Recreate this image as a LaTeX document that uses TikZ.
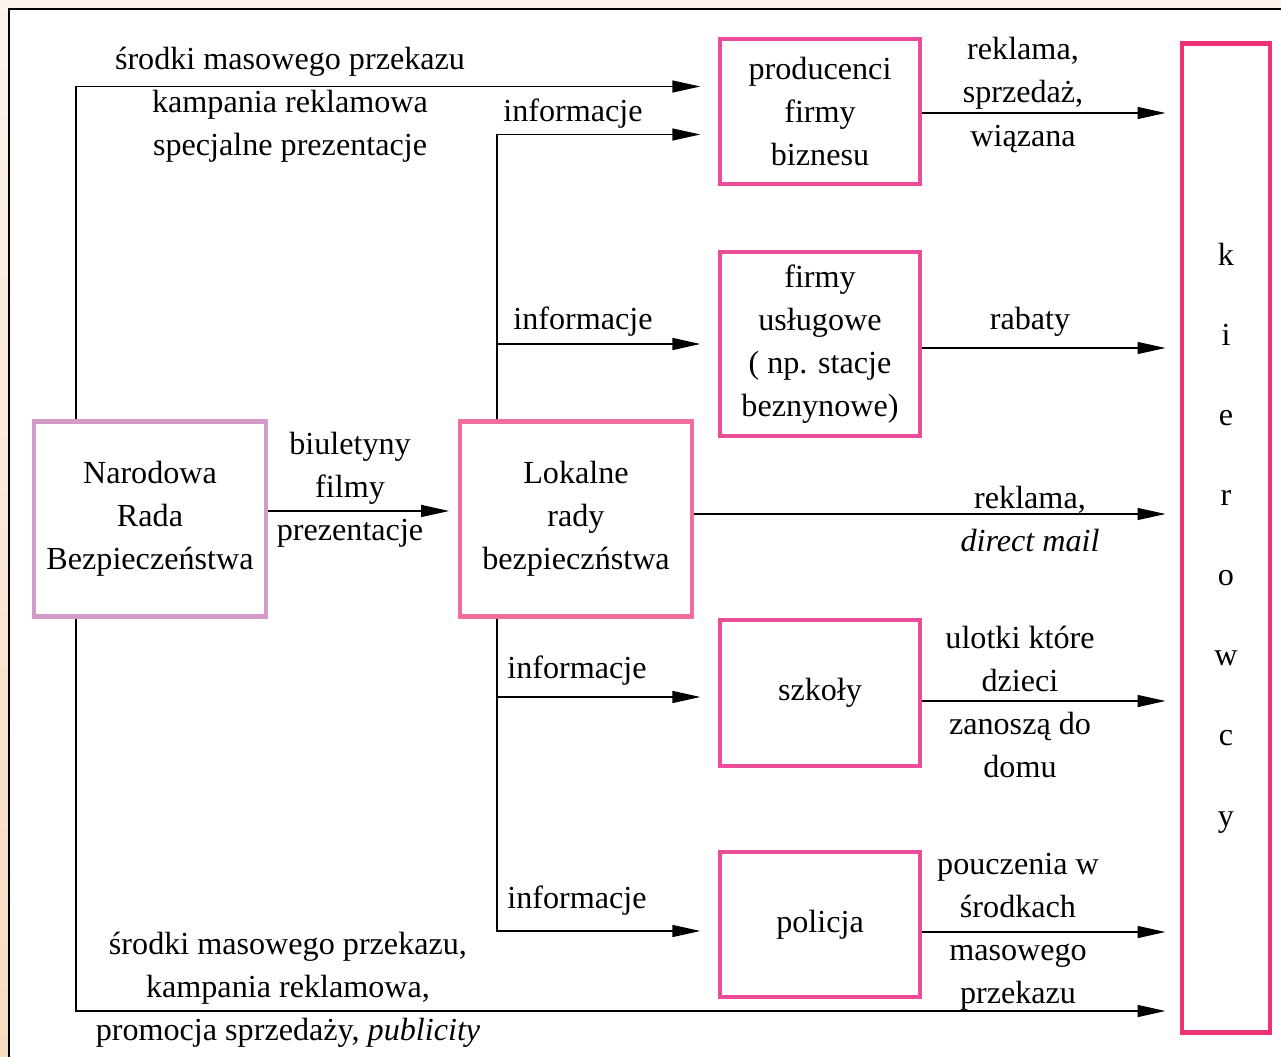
\documentclass[tikz,border=0pt]{standalone}
\usepackage{fontspec}
\setmainfont{Liberation Serif}
\usetikzlibrary{arrows.meta,positioning}

\definecolor{lilac}{HTML}{D49AC8}
\definecolor{rosy}{HTML}{F06E9E}
\definecolor{magent}{HTML}{EC4C9A}
\definecolor{crimsonpink}{HTML}{EF3277}
\definecolor{cream}{HTML}{FBF3EC}
\definecolor{peach}{HTML}{F8DCC0}

\tikzset{
  box/.style={draw, line width=2.4pt, fill=white, align=center, inner sep=0pt},
  conn/.style={line width=0.75pt},
  arr/.style={conn, -{Triangle[length=0.56cm,width=0.24cm]}},
  lbl/.style={align=center, inner sep=0pt},
}

\begin{document}
\begin{tikzpicture}[x=0.02cm, y=-0.02cm, font=\fontsize{18.3}{24.5}\selectfont]

  \useasboundingbox (0,0) rectangle (1281,1057);
  \shade[top color=cream, bottom color=peach] (0,0) rectangle (1281,1057);
  \draw[fill=white, line width=1.5pt] (9,9) rectangle (1300,1080);

  %% boxes
  \node[box, draw=lilac, minimum width=4.64cm, minimum height=3.9cm] (nrb) at (150,519)
    {Narodowa\\Rada\\Bezpieczeństwa};
  \node[box, draw=rosy, minimum width=4.64cm, minimum height=3.9cm] (lok) at (576,519)
    {Lokalne\\rady\\bezpieczństwa};
  \node[box, draw=magent, minimum width=4cm, minimum height=2.9cm] (prod) at (820,111.5)
    {producenci\\firmy\\biznesu};
  \node[box, draw=magent, minimum width=4cm, minimum height=3.68cm] (usl) at (820,344)
    {firmy\\usługowe\\( np. stacje\\beznynowe)};
  \node[box, draw=magent, minimum width=4cm, minimum height=2.92cm] (szk) at (820,693)
    {szkoły};
  \node[box, draw=magent, minimum width=4cm, minimum height=2.9cm] (pol) at (820,924.5)
    {policja};
  \node[box, draw=crimsonpink, line width=2.8pt, minimum width=1.76cm, minimum height=19.8cm,
    font=\fontsize{18.3}{45.6}\selectfont] (kier) at (1226,538)
    {k\\i\\e\\r\\o\\w\\c\\y};

  %% from Narodowa Rada
  \draw[arr, shorten >=10pt] (nrb.north -| 76,0) |- ([yshift=0.5cm]prod.west);
  \draw[arr, shorten >=5pt] (nrb.east |- 0,511) -- (lok.west |- 0,511);
  \draw[arr, shorten >=8pt] (nrb.south -| 76,0) |- (kier.west |- 0,1011);

  %% from Lokalne rady
  \draw[arr, shorten >=10pt] (lok.north -| 497,0) |- ([yshift=-0.46cm]prod.west);
  \draw[arr, shorten >=10pt] (lok.north -| 497,0) |- (usl.west);
  \draw[arr, shorten >=10pt] (lok.south -| 497,0) |- ([yshift=-0.08cm]szk.west);
  \draw[arr, shorten >=10pt] (lok.south -| 497,0) |- ([yshift=-0.13cm]pol.west);
  \draw[arr, shorten >=8pt] (lok.east |- 0,514) -- (kier.west |- 0,514);

  %% to kierowcy
  \draw[arr, shorten >=8pt] (prod.east |- 0,113) -- (kier.west |- 0,113);
  \draw[arr, shorten >=8pt] (usl.east |- 0,348) -- (kier.west |- 0,348);
  \draw[arr, shorten >=8pt] (szk.east |- 0,701) -- (kier.west |- 0,701);
  \draw[arr, shorten >=8pt] (pol.east |- 0,932) -- (kier.west |- 0,932);

  %% labels
  \node[lbl] (l-top) at (290,105) {środki masowego przekazu\\kampania reklamowa\\specjalne prezentacje};
  \node[lbl] (l-bul) at (350,490) {biuletyny\\filmy\\prezentacje};
  \node[lbl] (l-bot) at (288,990) {środki masowego przekazu,\\kampania reklamowa,\\promocja sprzedaży, \textit{publicity}};
  \node[lbl] (l-inf1) at (573,114) {informacje};
  \node[lbl] (l-inf2) at (583,322) {informacje};
  \node[lbl] (l-inf3) at (577,671) {informacje};
  \node[lbl] (l-inf4) at (577,901) {informacje};
  \node[lbl] (l-prod) at (1023,95) {reklama,\\sprzedaż,\\wiązana};
  \node[lbl] (l-usl) at (1030,322) {rabaty};
  \node[lbl] (l-lok) at (1030,519) {reklama,\\\textit{direct mail}};
  \node[lbl] (l-szk) at (1020,702) {ulotki które\\dzieci\\zanoszą do\\domu};
  \node[lbl] (l-pol) at (1018,932) {pouczenia w\\środkach\\masowego\\przekazu};

\end{tikzpicture}
\end{document}
